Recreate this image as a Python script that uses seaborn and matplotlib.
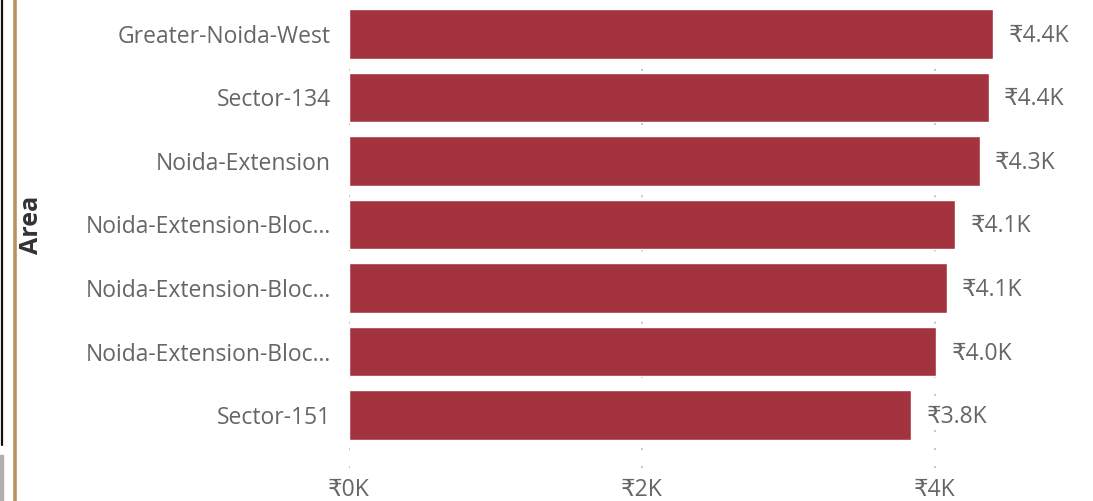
import pandas as pd
import matplotlib.pyplot as plt
import seaborn as sns
from matplotlib.lines import Line2D
from matplotlib.patches import Rectangle

areas = ["Greater-Noida-West", "Sector-134", "Noida-Extension",
         "Noida-Extension-Bloc...", "Noida-Extension-Bloc...",
         "Noida-Extension-Bloc...", "Sector-151"]
values = [4400, 4370, 4310, 4140, 4080, 4010, 3840]
value_labels = ["₹4.4K", "₹4.4K", "₹4.3K", "₹4.1K", "₹4.1K", "₹4.0K", "₹3.8K"]
x_ticks = [0, 2000, 4000]
x_tick_labels = ["₹0K", "₹2K", "₹4K"]

sns.set_style("white")
plt.rcParams['font.family'] = ['Open Sans', 'DejaVu Sans']

df = pd.DataFrame({"pos": range(len(areas)), "value": values})

fig = plt.figure(figsize=(10.93, 5.01), dpi=100)
ax = fig.add_axes([349 / 1093, 33 / 501, 744 / 1093, 466 / 501])

sns.barplot(data=df, x="value", y="pos", orient="h", color="#A3343F",
            saturation=1, width=0.78, ax=ax)

ax.set_xlim(0, 5080)
ax.set_ylim(6.5 + 21 / 63.5, -0.5)
ax.set_yticks(range(len(areas)))
ax.set_yticklabels(areas)
ax.set_xticks(x_ticks)
ax.set_xticklabels(x_tick_labels)
ax.tick_params(axis="y", length=0, pad=13, labelsize=16.5, labelcolor="#666666")
ax.tick_params(axis="x", length=0, pad=7, labelsize=16.5, labelcolor="#666666")
for s in ax.spines.values():
    s.set_visible(False)
ax.xaxis.grid(True, linestyle=(0, (1, 9)), color="#bbbbbb", linewidth=1.3)
ax.set_axisbelow(True)

ax.set_xlabel("")
ax.set_ylabel("")
fig.text(32 / 1093, 1 - 225 / 501, "Area", rotation=90, ha="center", va="center",
         fontsize=18, fontweight="bold", color="#333333")

for i, (v, lab) in enumerate(zip(values, value_labels)):
    ax.annotate(lab, (v, i), xytext=(15, -2), textcoords="offset pixels",
                va="center", ha="left", fontsize=16.5, color="#666666")

# left-hand frame decoration
fig.add_artist(Line2D([14.5 / 1093, 14.5 / 1093], [0, 1], color="#B8955F",
                      linewidth=2.6, transform=fig.transFigure))
fig.add_artist(Line2D([2 / 1093, 2 / 1093], [56 / 501, 1], color="#111111",
                      linewidth=1.6, transform=fig.transFigure))
fig.add_artist(Rectangle((0, 0), 3 / 1093, 46 / 501, color="#b0b0b0",
                         transform=fig.transFigure))

fig.savefig("out.png", dpi=100)
